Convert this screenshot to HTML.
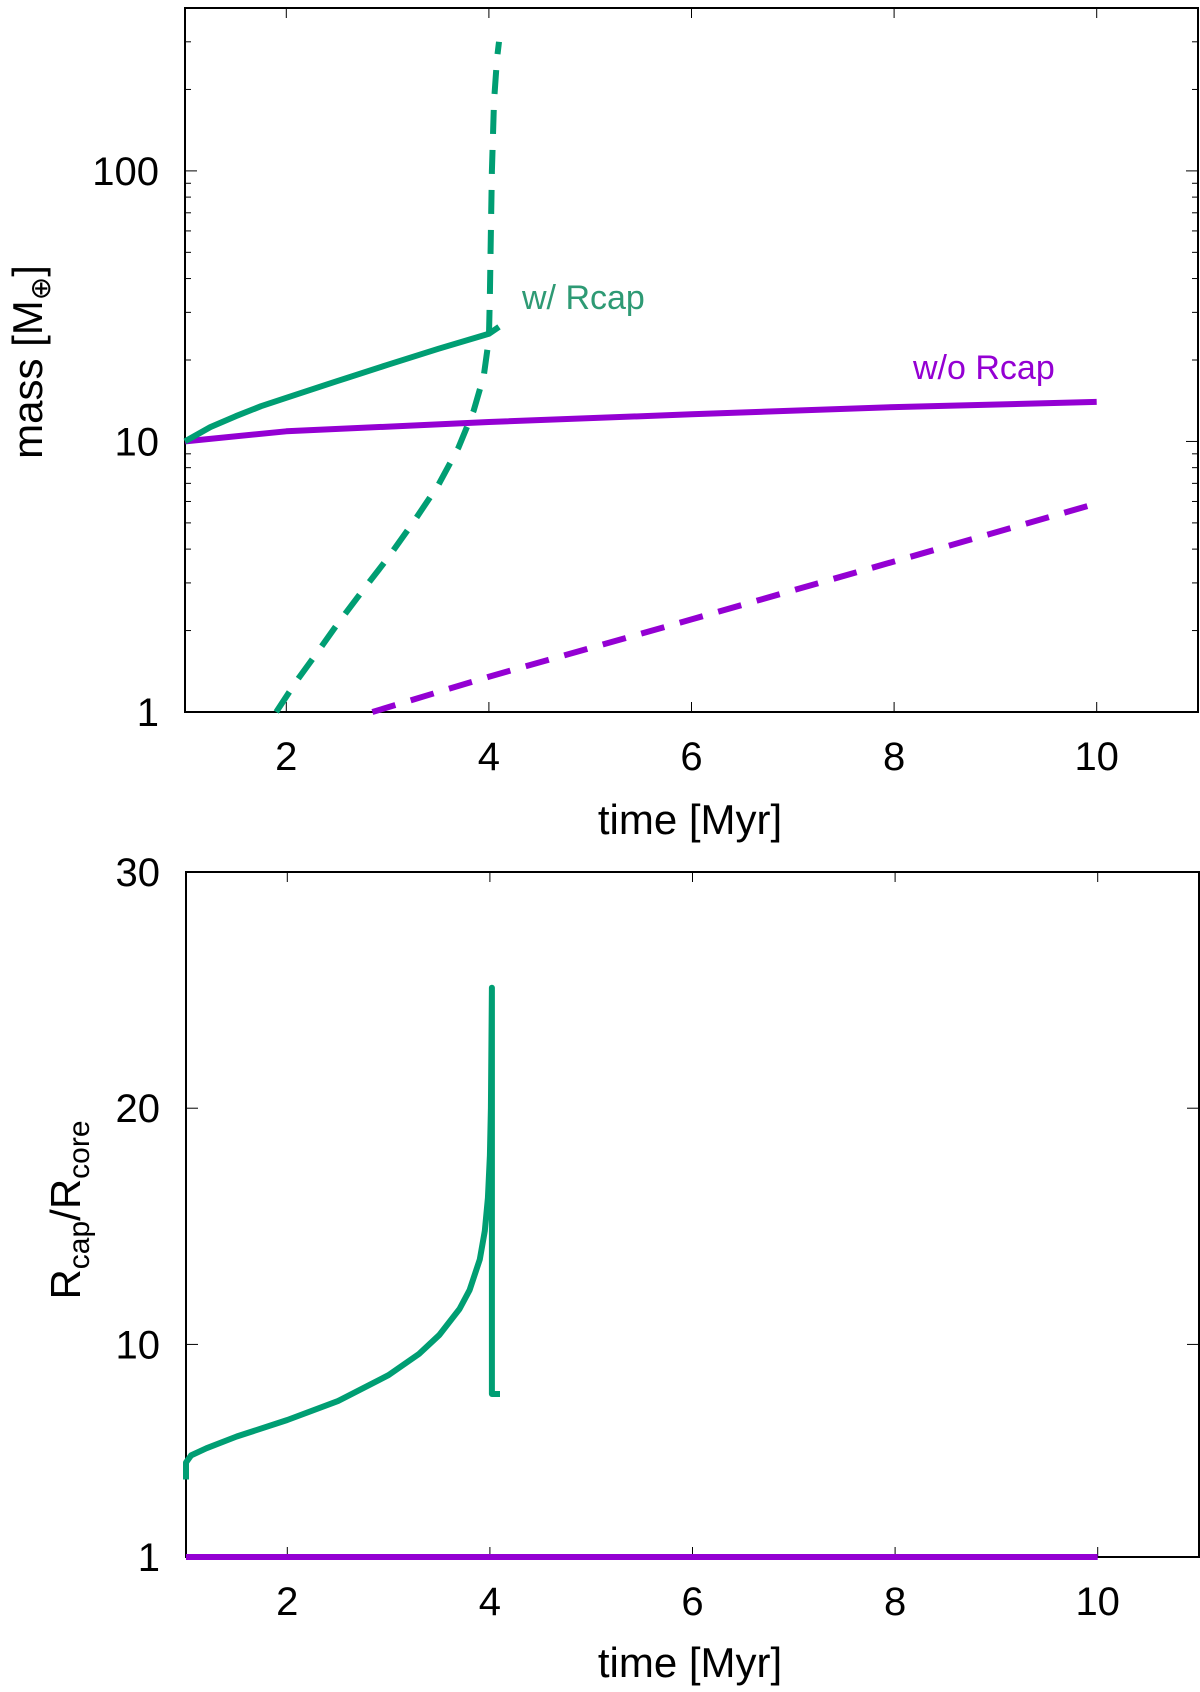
<!DOCTYPE html>
<html><head><meta charset="utf-8"><style>
html,body{margin:0;padding:0;background:#fff;}
svg{display:block;font-family:"Liberation Sans",sans-serif;}
</style></head><body>
<svg id="chart" width="1200" height="1692" viewBox="0 0 1200 1692" xmlns="http://www.w3.org/2000/svg"></svg>
<script>
// Top panel data (mass vs time)
const greenSolidT = [1, 1.25, 1.5, 1.75, 2, 2.5, 3, 3.5, 4, 4.1];
const greenSolidM = [10, 11.3, 12.4, 13.5, 14.5, 16.7, 19.2, 22, 25, 26.5];
const greenDashT = [1.9, 2.1, 2.3, 2.5, 2.75, 3, 3.25, 3.5, 3.7, 3.85, 3.95, 4.0, 4.01, 4.02, 4.03, 4.05, 4.08, 4.1];
const greenDashM = [1, 1.3, 1.65, 2.1, 2.8, 3.7, 5, 6.9, 9.5, 13, 17.5, 24, 35, 60, 100, 180, 260, 300];
const purpleSolidT = [1, 2, 4, 6, 8, 10];
const purpleSolidM = [10, 10.9, 11.8, 12.6, 13.4, 14];
const purpleDashT = [2.85, 4, 6, 8, 10];
const purpleDashM = [1, 1.35, 2.2, 3.6, 5.9];
const xTicks = [2, 4, 6, 8, 10];
const yTicksTop = [1, 10, 100];
// Bottom panel data (Rcap/Rcore vs time)
const greenRatioT = [1, 1, 1.05, 1.2, 1.5, 2, 2.5, 3, 3.3, 3.5, 3.7, 3.8, 3.9, 3.95, 3.98, 4.0, 4.01, 4.02, 4.02, 4.1];
const greenRatioR = [4.28, 5.0, 5.3, 5.6, 6.1, 6.8, 7.6, 8.7, 9.6, 10.4, 11.5, 12.3, 13.6, 14.8, 16.2, 18, 20, 25.1, 7.9, 7.9];
const purpleRatioT = [1, 10];
const purpleRatioR = [1, 1];
const yTicksBot = [1, 10, 20, 30];

const svg = document.getElementById('chart');
const NS = 'http://www.w3.org/2000/svg';
function mk(tag, attrs, parent){const e=document.createElementNS(NS,tag);for(const k in attrs)e.setAttribute(k,attrs[k]);(parent||svg).appendChild(e);return e;}

const GREEN='#009e73', PURPLE='#9400d3';

const T={l:185,r:1198,t:8,b:712};
const xT=v=>T.l+(v-1)/(11-1)*(T.r-T.l);
const yT=v=>T.b-(Math.log10(v))/(Math.log10(400))*(T.b-T.t);
const B={l:186,r:1199,t:872,b:1557};
const xB=v=>B.l+(v-1)/(11-1)*(B.r-B.l);
const yB=v=>B.b-(v-1)/(30-1)*(B.b-B.t);

function panel(P,xf,yf,yticks,isLog,name){
  const g=mk('g',{});
  
  
  xTicks.forEach(v=>{
    const x=xf(v);
    const t1=mk('line',{x1:x,y1:P.b,x2:x,y2:P.b-10,stroke:'#000','stroke-width':1},g);
    
    mk('line',{x1:x,y1:P.t,x2:x,y2:P.t+10,stroke:'#000','stroke-width':1},g);
    const tx=mk('text',{x:x,y:P.b+58,'font-size':40,'text-anchor':'middle',fill:'#000'},g);
    tx.textContent=v;
    
  });
  yticks.forEach(v=>{
    const y=yf(v);
    mk('line',{x1:P.l,y1:y,x2:P.l+12,y2:y,stroke:'#000','stroke-width':1},g);
    mk('line',{x1:P.r,y1:y,x2:P.r-12,y2:y,stroke:'#000','stroke-width':1},g);
    const ty=mk('text',{x:P.l-26,y:y+14,'font-size':40,'text-anchor':'end',fill:'#000'},g);
    ty.textContent=v;
    
  });
  if(isLog){
    for(let d=1;d<=100;d*=10){for(let k=2;k<=9;k++){const v=d*k;if(v>400)continue;const y=yf(v);
      mk('line',{x1:P.l,y1:y,x2:P.l+6,y2:y,stroke:'#000','stroke-width':1},g);
      mk('line',{x1:P.r,y1:y,x2:P.r-6,y2:y,stroke:'#000','stroke-width':1},g);}}
  }
  const fr=mk('rect',{x:P.l,y:P.t,width:P.r-P.l,height:P.b-P.t,fill:'none',stroke:'#000','stroke-width':2},g);
  
  return g;
}
function line(xs,ys,xf,yf,color,dash,name){
  const d=xs.map((v,i)=>(i?'L':'M')+xf(v).toFixed(1)+','+yf(ys[i]).toFixed(1)).join(' ');
  const p=mk('path',{d:d,fill:'none',stroke:color,'stroke-width':6,'stroke-linejoin':'round'});
  if(dash)p.setAttribute('stroke-dasharray',dash);
  
  
}

panel(T,xT,yT,yTicksTop,true,'mass-panel');
line(purpleDashT,purpleDashM,xT,yT,PURPLE,'24,16','purple-dashed-line');
line(purpleSolidT,purpleSolidM,xT,yT,PURPLE,null,'purple-solid-line');
line(greenDashT,greenDashM,xT,yT,GREEN,'24,16','green-dashed-line');
line(greenSolidT,greenSolidM,xT,yT,GREEN,null,'green-solid-line');

panel(B,xB,yB,yTicksBot,false,'ratio-panel');
line(purpleRatioT,purpleRatioR,xB,yB,PURPLE,null,'purple-ratio-line');
line(greenRatioT,greenRatioR,xB,yB,GREEN,null,'green-ratio-line');
</script>
<svg style="position:absolute;left:0;top:0" width="1200" height="1692">
  <text x="522" y="309" font-size="34" fill="#2e9a74" font-family="Liberation Sans, sans-serif">w/ Rcap</text>
  <text x="913" y="379" font-size="34" fill="#9400d3" font-family="Liberation Sans, sans-serif">w/o Rcap</text>
  <text x="690" y="834" font-size="42" text-anchor="middle" font-family="Liberation Sans, sans-serif">time [Myr]</text>
  <text x="690" y="1677" font-size="42" text-anchor="middle" font-family="Liberation Sans, sans-serif">time [Myr]</text>
  <text transform="translate(42,362) rotate(-90)" font-size="42" text-anchor="middle" font-family="Liberation Sans, sans-serif">mass [M<tspan font-size="28" dy="8">⊕</tspan><tspan dy="-8">]</tspan></text>
  <text transform="translate(80,1210) rotate(-90)" font-size="42" text-anchor="middle" font-family="Liberation Sans, sans-serif">R<tspan font-size="30" dy="9">cap</tspan><tspan dy="-9">/R</tspan><tspan font-size="30" dy="9">core</tspan></text>
</svg>
</body></html>
